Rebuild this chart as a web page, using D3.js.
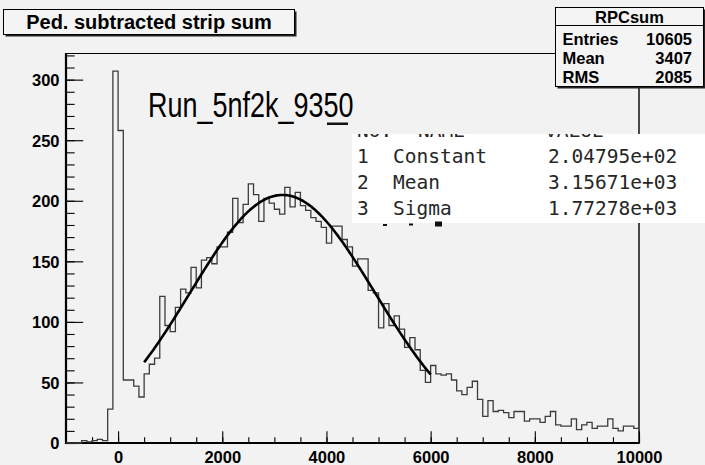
<!DOCTYPE html>
<html>
<head>
<meta charset="utf-8">
<script src="https://cdn.jsdelivr.net/npm/d3@7"></script>
<style>
  body { margin: 0; background: #f2f2f2; }
  svg { display: block; font-family: "Liberation Sans", Arial, sans-serif; }
</style>
</head>
<body>
<div id="vis"></div>
<script>
const FRAME_WIDTH = 705;
const FRAME_HEIGHT = 465;
const PLOT = { left: 66, right: 639, top: 53, bottom: 443 };

// histogram bins: low edges from -1000, 100 wide
const BIN_WIDTH = 100;
const BIN_LOWS = d3.range(-1000, 10000, BIN_WIDTH);
const COUNTS = [
  0, 0, 0, 2, 1, 2, 3, 2, 28, 307,
  258, 52, 52, 47, 38, 57, 65, 70, 121, 97,
  92, 112, 127, 124, 145, 128, 151, 153, 148, 162,
  162, 174, 202, 182, 197, 214, 205, 183, 202, 198,
  193, 189, 211, 195, 207, 196, 192, 186, 183, 178,
  165, 179, 179, 168, 162, 146, 152, 152, 126, 124,
  95, 115, 97, 105, 94, 79, 87, 77, 60, 50,
  64, 57, 56, 57, 52, 43, 40, 46, 51, 36,
  22, 35, 26, 27, 25, 21, 26, 26, 18, 20,
  20, 17, 22, 26, 15, 14, 14, 20, 11, 15,
  17, 12, 14, 14, 20, 12, 10, 14, 14, 12
];

const X_DOMAIN = [-1000, 10000];
const Y_DOMAIN = [0, 322];
const X_MAJOR = [0, 2000, 4000, 6000, 8000, 10000];
const X_MINOR = d3.range(-500, 10001, 500);
const Y_MAJOR = [0, 50, 100, 150, 200, 250, 300];
const Y_MINOR = d3.range(0, 321, 10);

// gaussian fit as printed in the fit panel
const FIT_RANGE = [500, 6000];
const FIT_NO = ["1", "2", "3"];
const FIT_NAMES = ["Constant", "Mean", "Sigma"];
const FIT_VALUES = [204.795, 3156.71, 1772.78];
const FIT_LABELS = ["2.04795e+02", "3.15671e+03", "1.77278e+03"];
const FIT_HEADER = ["NO.", "NAME", "VALUE"];

const STAT_TITLE = "RPCsum";
const STAT_NAMES = ["Entries", "Mean", "RMS"];
const STAT_VALUES = ["10605", "3407", "2085"];

const TITLE = "Ped. subtracted strip sum";
const RUN_LABEL = "Run_5nf2k_9350";

const svg = d3.select("#vis")
  .append("svg")
  .attr("width", FRAME_WIDTH)
  .attr("height", FRAME_HEIGHT);

svg.append("rect")
  .attr("width", FRAME_WIDTH)
  .attr("height", FRAME_HEIGHT)
  .attr("fill", "#f2f2f2");

const X_SCALE = d3.scaleLinear().domain(X_DOMAIN).range([PLOT.left, PLOT.right]);
const Y_SCALE = d3.scaleLinear().domain(Y_DOMAIN).range([PLOT.bottom, PLOT.top]);

// axes (ROOT style, ticks pointing inward)
const xMinor = svg.append("g")
  .attr("transform", "translate(0," + PLOT.bottom + ")")
  .call(d3.axisBottom(X_SCALE).tickValues(X_MINOR).tickSize(-5.8).tickFormat(""));
const xMajor = svg.append("g")
  .attr("transform", "translate(0," + PLOT.bottom + ")")
  .call(d3.axisBottom(X_SCALE).tickValues(X_MAJOR).tickSize(-11.7).tickFormat(d3.format("d")));
xMajor.selectAll("text")
  .attr("y", 19.5)
  .attr("dy", 0)
  .attr("font-size", "16.5px")
  .attr("font-weight", "bold")
  .attr("fill", "#000");

const yMinor = svg.append("g")
  .attr("transform", "translate(" + PLOT.left + ",0)")
  .call(d3.axisLeft(Y_SCALE).tickValues(Y_MINOR).tickSize(-8.6).tickFormat(""));
const yMajor = svg.append("g")
  .attr("transform", "translate(" + PLOT.left + ",0)")
  .call(d3.axisLeft(Y_SCALE).tickValues(Y_MAJOR).tickSize(-17.2).tickFormat(d3.format("d")));
yMajor.selectAll("text")
  .attr("x", -6.5)
  .attr("dy", "0.36em")
  .attr("font-size", "16.5px")
  .attr("font-weight", "bold")
  .attr("fill", "#000");

[xMinor, xMajor, yMinor, yMajor].forEach((g) => {
  g.select(".domain").remove();
  g.selectAll("line").attr("stroke", "#000").attr("stroke-width", 1.1);
});

// frame
svg.append("line")
  .attr("x1", PLOT.left).attr("x2", 556)
  .attr("y1", PLOT.top + 0.5).attr("y2", PLOT.top + 0.5)
  .attr("stroke", "#000").attr("stroke-width", 1.2);
svg.append("line")
  .attr("x1", PLOT.right).attr("x2", PLOT.right)
  .attr("y1", PLOT.top).attr("y2", PLOT.bottom)
  .attr("stroke", "#000").attr("stroke-width", 1.4);
svg.append("line")
  .attr("x1", PLOT.left).attr("x2", PLOT.left)
  .attr("y1", PLOT.top).attr("y2", PLOT.bottom + 1)
  .attr("stroke", "#000").attr("stroke-width", 2.2);
svg.append("line")
  .attr("x1", PLOT.left - 1).attr("x2", PLOT.right + 0.7)
  .attr("y1", PLOT.bottom).attr("y2", PLOT.bottom)
  .attr("stroke", "#000").attr("stroke-width", 2.2);

// histogram outline
const histPoints = BIN_LOWS.map((lo, i) => [lo, COUNTS[i]]);
histPoints.push([X_DOMAIN[1], COUNTS[COUNTS.length - 1]]);
const histLine = d3.line()
  .x((d) => X_SCALE(d[0]))
  .y((d) => Y_SCALE(d[1]))
  .curve(d3.curveStepAfter);
svg.append("path")
  .datum(histPoints)
  .attr("d", histLine)
  .attr("fill", "none")
  .attr("stroke", "#3c3c3c")
  .attr("stroke-width", 1.3);

// fit curve
const gaus = (x) => FIT_VALUES[0] * Math.exp(-0.5 * Math.pow((x - FIT_VALUES[1]) / FIT_VALUES[2], 2));
const fitPoints = d3.range(FIT_RANGE[0], FIT_RANGE[1] + 1, 25).map((x) => [x, gaus(x)]);
svg.append("path")
  .datum(fitPoints)
  .attr("d", d3.line().x((d) => X_SCALE(d[0])).y((d) => Y_SCALE(d[1])))
  .attr("fill", "none")
  .attr("stroke", "#000")
  .attr("stroke-width", 2.6);

// run label
svg.append("g")
  .attr("transform", "translate(148,117) scale(1,1.3)")
  .append("text")
  .attr("font-size", "27px")
  .attr("fill", "#000")
  .text(RUN_LABEL);

svg.append("rect")
  .attr("x", 327).attr("y", 122.5).attr("width", 21).attr("height", 2.5)
  .attr("fill", "#111");

// pasted fit result panel
const box = { x: 352, y: 134, w: 353, h: 89 };
svg.append("defs").append("clipPath").attr("id", "fitclip")
  .append("rect").attr("x", box.x).attr("y", box.y).attr("width", box.w).attr("height", box.h);
svg.append("rect")
  .attr("x", box.x).attr("y", box.y).attr("width", box.w).attr("height", box.h)
  .attr("fill", "#fff");

const fitG = svg.append("g")
  .attr("clip-path", "url(#fitclip)")
  .attr("font-family", "'DejaVu Sans Mono', monospace")
  .attr("font-size", "19.5px")
  .attr("fill", "#262626");

const COLS = [357, 393, 548];
const HEADER_X = [357, 418, 545];
FIT_HEADER.forEach((t, i) => {
  fitG.append("text").attr("x", HEADER_X[i]).attr("y", 136.5).text(t);
});
FIT_NAMES.forEach((name, i) => {
  const y = 163 + i * 26;
  fitG.append("text").attr("x", COLS[0]).attr("y", y).text(FIT_NO[i]);
  fitG.append("text").attr("x", COLS[1]).attr("y", y).text(name);
  fitG.append("text").attr("x", COLS[2]).attr("y", y).text(FIT_LABELS[i]);
});

// bits of the next panel row peeking out below
[[383, 224, 4, 2], [409, 223.5, 4, 2], [435, 221.5, 7, 5]].forEach(([x, y, w, h]) => {
  svg.append("rect").attr("x", x).attr("y", y).attr("width", w).attr("height", h).attr("fill", "#111");
});

// title box
svg.append("rect")
  .attr("x", 5.5).attr("y", 11.5).attr("width", 291).attr("height", 25)
  .attr("fill", "#222");
svg.append("rect")
  .attr("x", 3.5).attr("y", 9.5).attr("width", 291).attr("height", 25)
  .attr("fill", "#f4f4f4").attr("stroke", "#000").attr("stroke-width", 1);
svg.append("text")
  .attr("x", 149).attr("y", 28.5)
  .attr("text-anchor", "middle")
  .attr("font-size", "20px")
  .attr("font-weight", "bold")
  .text(TITLE);

// stats box
const sb = { x: 555.5, y: 7.5, w: 148, h: 79 };
svg.append("rect")
  .attr("x", sb.x + 2).attr("y", sb.y + 2).attr("width", sb.w).attr("height", sb.h)
  .attr("fill", "#222");
svg.append("rect")
  .attr("x", sb.x).attr("y", sb.y).attr("width", sb.w).attr("height", sb.h)
  .attr("fill", "#f4f4f4").attr("stroke", "#000").attr("stroke-width", 1);
svg.append("line")
  .attr("x1", sb.x).attr("x2", sb.x + sb.w)
  .attr("y1", 25.5).attr("y2", 25.5)
  .attr("stroke", "#000").attr("stroke-width", 1);
svg.append("text")
  .attr("x", sb.x + sb.w / 2).attr("y", 22.5)
  .attr("text-anchor", "middle")
  .attr("font-size", "16.5px").attr("font-weight", "bold")
  .text(STAT_TITLE);
STAT_NAMES.forEach((name, i) => {
  const y = 45 + i * 19.2;
  svg.append("text")
    .attr("x", 562.5).attr("y", y)
    .attr("font-size", "16.5px").attr("font-weight", "bold")
    .text(name);
  svg.append("text")
    .attr("x", 692).attr("y", y)
    .attr("text-anchor", "end")
    .attr("font-size", "16.5px").attr("font-weight", "bold")
    .text(STAT_VALUES[i]);
});
</script>
</body>
</html>
